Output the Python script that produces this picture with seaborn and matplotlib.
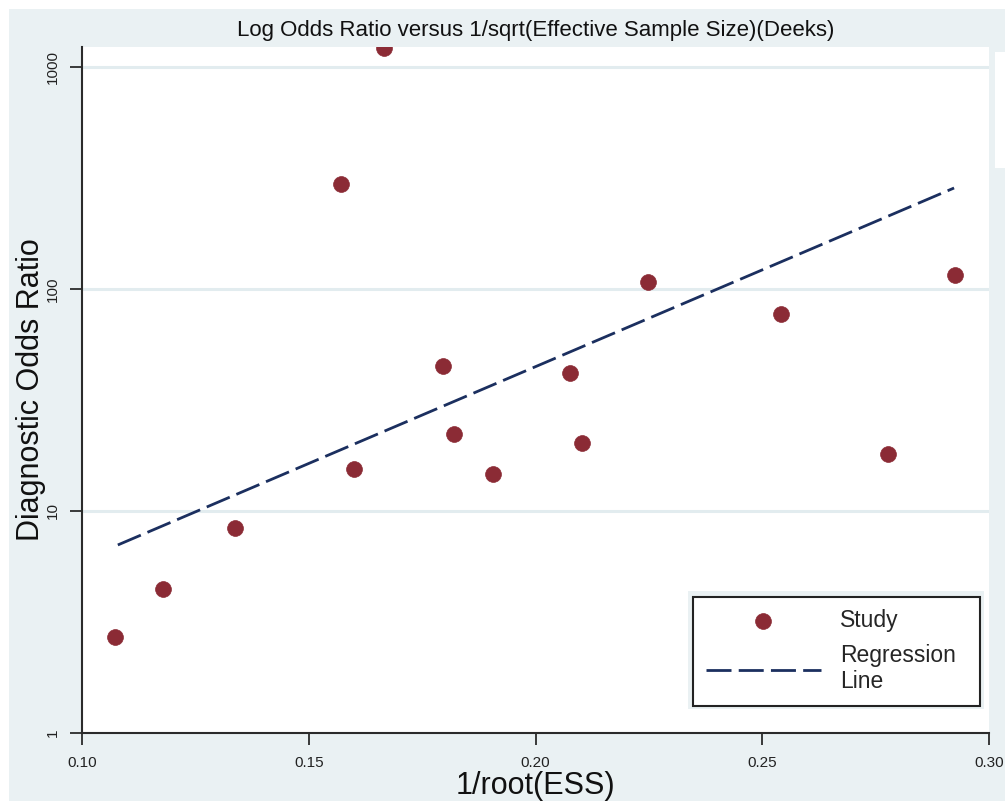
import matplotlib
matplotlib.use("Agg")
import matplotlib.pyplot as plt
from matplotlib.patches import Rectangle
import seaborn as sns
import pandas as pd

# ---- data ----
inv_root_ess = [0.1073, 0.1179, 0.1338, 0.1599, 0.1666, 0.1571, 0.1796, 0.1821,
                0.1906, 0.2076, 0.2103, 0.2247, 0.2541, 0.2778, 0.2925]
diag_odds_ratio = [2.71, 4.44, 8.36, 15.4, 1214, 296, 45.0, 22.3,
                   14.6, 41.7, 20.2, 107, 76.9, 18.1, 116]
reg_x = [0.1079, 0.2923]
reg_y = [7.03, 285]
x_ticks = [0.10, 0.15, 0.20, 0.25, 0.30]
x_tick_labels = ["0.10", "0.15", "0.20", "0.25", "0.30"]
y_ticks = [1, 10, 100, 1000]
y_tick_labels = ["1", "10", "100", "1000"]
title = "Log Odds Ratio versus 1/sqrt(Effective Sample Size)(Deeks)"
xlabel = "1/root(ESS)"
ylabel = "Diagnostic Odds Ratio"

df = pd.DataFrame({"x": inv_root_ess, "y": diag_odds_ratio})
df_reg = pd.DataFrame({"x": reg_x, "y": reg_y})

sns.set_style("ticks")
plt.rcParams["font.family"] = ["Liberation Sans", "DejaVu Sans"]

BG = "#EAF1F3"
GRID = "#E2ECEF"
RED = "#8B2B35"
NAVY = "#1B2F5F"
AXC = "#2B2B2B"

W, H = 1005, 801
fig = plt.figure(figsize=(W / 100, H / 100), dpi=100, facecolor="white")
# outer background (white strip on top and left as in the reference)
fig.patches.append(Rectangle((9 / W, 0), 1 - 9 / W, 1 - 9 / H, transform=fig.transFigure,
                             facecolor=BG, edgecolor="none", zorder=-10))
# cropped white box on the far right
fig.patches.append(Rectangle((995 / W, 1 - 168 / H), 10 / W, 116 / H, transform=fig.transFigure,
                             facecolor="white", edgecolor="none", zorder=-9))

L, R, T, B = 82, 989, 47, 733
ax = fig.add_axes([L / W, 1 - B / H, (R - L) / W, (B - T) / H])
ax.set_facecolor("white")

ax.set_yscale("log")
sns.lineplot(data=df_reg, x="x", y="y", ax=ax, color=NAVY, lw=2.0,
             label="Regression\nLine", zorder=3)
ax.lines[-1].set_dashes((9, 2.6))
sns.scatterplot(data=df, x="x", y="y", ax=ax, color=RED, s=130, edgecolor=RED,
                linewidth=0.5, label="Study", zorder=4)

ax.set_xlim(0.10, 0.30)
ax.set_ylim(1, 1230)
ax.set_xticks(x_ticks)
ax.set_xticklabels(x_tick_labels)
ax.set_yticks(y_ticks)
ax.set_yticklabels(y_tick_labels, rotation=90, va="center")
ax.minorticks_off()

for y in y_ticks[1:]:
    ax.axhline(y, color=GRID, lw=2.2, zorder=1)

for s in ["top", "right"]:
    ax.spines[s].set_visible(False)
for s in ["left", "bottom"]:
    ax.spines[s].set_color(AXC)
    ax.spines[s].set_linewidth(1.5)
ax.tick_params(axis="both", length=8.6, width=1.3, color=AXC, labelsize=11,
               labelcolor="#222222")
ax.tick_params(axis="x", pad=8)
ax.tick_params(axis="y", pad=7)

ax.set_title(title, fontsize=16, color="#111111", pad=8)
ax.set_xlabel(xlabel, fontsize=22, color="#111111", labelpad=1)
ax.set_ylabel(ylabel, fontsize=22, color="#111111", labelpad=0)

# legend with bluish margin
ax.add_patch(Rectangle((0.668, 0.035), 0.326, 0.172, transform=ax.transAxes,
                       facecolor=BG, edgecolor="none", zorder=6, clip_on=False))
handles, labels = ax.get_legend_handles_labels()
order = [labels.index("Study"), labels.index("Regression\nLine")]
leg = ax.legend([handles[i] for i in order], [labels[i] for i in order],
                loc="lower left", bbox_to_anchor=(0.674, 0.0394, 0.316, 0.159),
                mode="expand", borderaxespad=0, fontsize=16.5, frameon=True,
                fancybox=False, handlelength=5.0, handletextpad=0.85,
                borderpad=0.55, labelspacing=0.5, markerscale=1.0)
leg.set_zorder(7)
fr = leg.get_frame()
fr.set_facecolor("white")
fr.set_edgecolor("#222222")
fr.set_linewidth(1.5)
fr.set_alpha(1)

fig.savefig("out.png", dpi=100, facecolor=fig.get_facecolor())
